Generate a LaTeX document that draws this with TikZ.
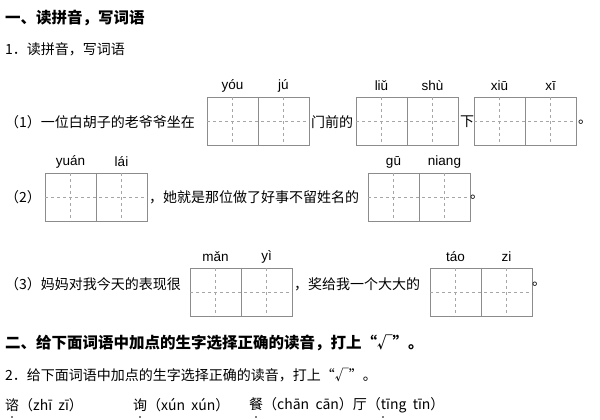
\documentclass[tikz,border=0pt]{standalone}
\usepackage{fontspec}
\setmainfont{Liberation Serif}
\setsansfont{Liberation Sans}
\newfontfamily\cjk{Noto Sans CJK SC}
\usetikzlibrary{positioning}
\tikzset{
  txt/.style={anchor=west,inner sep=0pt,font=\cjk\fontsize{14}{14}\selectfont},
  head/.style={anchor=west,inner sep=0pt,font=\cjk\bfseries\fontsize{15.5}{15.5}\selectfont},
  py/.style={inner sep=0pt,font=\sffamily\fontsize{13.5}{13.5}\selectfont},
  cellline/.style={draw=black!45,line width=0.6pt},
  midline/.style={draw=black!35,dashed,line width=0.4pt}
}
% two-cell writing box: x, y (top-left), pinyin 1, pinyin 2, name
\newcommand\pybox[5]{%
  \draw[cellline] (#1,#2) rectangle ++(102,48) (#1+51,#2) -- ++(0,48);
  \draw[midline] (#1,#2+24) -- ++(102,0)
    (#1+25.5,#2) -- ++(0,48) (#1+76.5,#2) -- ++(0,48);
  \node[py] (#5a) at (#1+25.5,#2-11) {#3};
  \node[py] (#5b) at (#1+76.5,#2-11) {#4};
}
\begin{document}
\begin{tikzpicture}[x=1pt,y=-1pt]
    \useasboundingbox (0,0) rectangle (600,420);
    %Titulo 1
    \node[head] (h1) at (5,18) {一、读拼音，写词语};
    \node[txt] (q1) at (5,49) {1．读拼音，写词语};
    %Linea 1
    \node[txt] (l1) at (5,122) {（1）一位白胡子的老爷爷坐在};
    \pybox{207}{97}{yóu}{jú}{p1}
    \node[txt] (l1b) at (311,122) {门前的};
    \pybox{356}{97}{liǔ}{shù}{p2}
    \node[txt] (l1c) at (460,122) {下};
    \pybox{474}{97}{xiū}{xī}{p3}
    \node[txt] (l1d) at (578,122) {。};
    %Linea 2
    \node[txt] (l2) at (5,197) {（2）};
    \pybox{45}{173}{yuán}{lái}{p4}
    \node[txt] (l2b) at (149,197) {，她就是那位做了好事不留姓名的};
    \pybox{368}{173}{gū}{niang}{p5}
    \node[txt] (l2c) at (470,197) {。};
    %Linea 3
    \node[txt] (l3) at (5,284) {（3）妈妈对我今天的表现很};
    \pybox{190}{268}{mǎn}{yì}{p6}
    \node[txt] (l3b) at (294,284) {，奖给我一个大大的};
    \pybox{430}{268}{táo}{zi}{p7}
    \node[txt] (l3c) at (532,284) {。};
    %Titulo 2
    \node[head] (h2) at (5,343) {二、给下面词语中加点的生字选择正确的读音，打上“√”。};
    \node[txt] (q2) at (5,375) {2．给下面词语中加点的生字选择正确的读音，打上“√”。};
    \node[txt] (w1) at (5,405) {谘（zhī\ \ zī）};
    \node[txt] (w2) at (133,405) {询（xún\ \ xún）};
    \node[txt] (w3) at (249,405) {餐（chān\ \ cān）厅（tīng\ \ tīn）};
    \foreach \d in {12,140,256,383} \fill (\d,417) circle (0.9);
\end{tikzpicture}
\end{document}
